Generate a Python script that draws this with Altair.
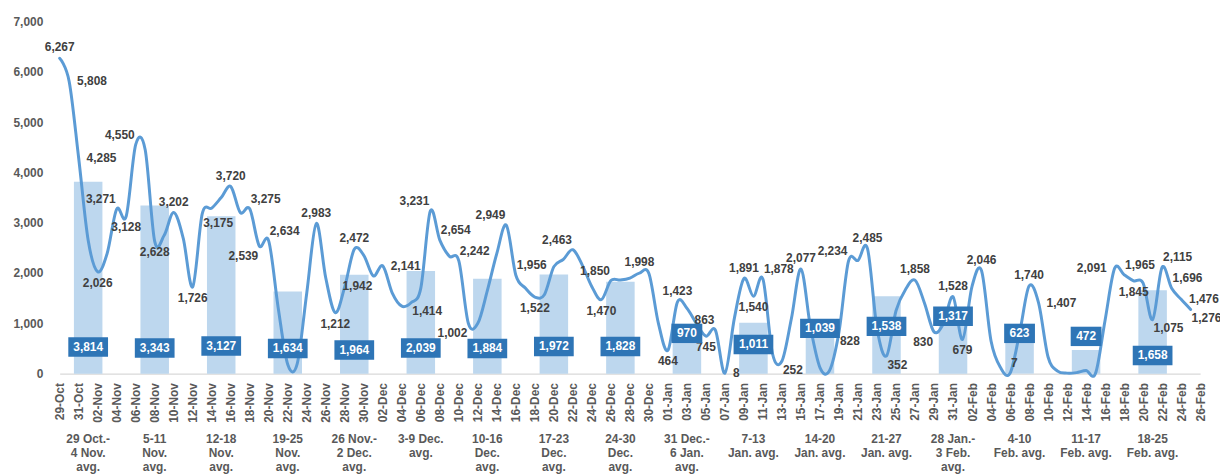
import altair as alt
import pandas as pd

# ---------------- data ----------------
# daily categories 29-Oct .. 26-Feb (tick labels)
date_labels = [d.strftime("%d-%b") for d in pd.date_range("2020-10-29", "2021-02-26", freq="D")]

# daily values 29-Oct .. 25-Feb
daily = [
    6267, 5808, 4285, 2650, 2026, 2391, 3271,          # 29 Oct - 4 Nov
    3128, 4550, 4450, 2628, 2750, 3202, 2693,          # 5-11 Nov
    1726, 3175, 3290, 3500, 3720, 3203, 3275,          # 12-18 Nov
    2539, 2634, 1300, 180, 200, 1602, 2983,            # 19-25 Nov
    1900, 1212, 1730, 2472, 2351, 1942, 2141,          # 26 Nov - 2 Dec
    1600, 1340, 1414, 1700, 3231, 2654, 2334,          # 3-9 Dec
    2242, 1002, 1000, 1650, 2390, 2949, 1956,          # 10-16 Dec
    1700, 1522, 1568, 2126, 2272, 2463, 2153,          # 17-23 Dec
    1728, 1470, 1850, 1860, 1900, 1998, 1990,          # 24-30 Dec
    1000, 464, 1423, 1300, 995, 745, 863,              # 31 Dec - 6 Jan
    8, 1108, 1891, 1540, 1878, 400, 252,               # 7-13 Jan
    1100, 2077, 924, 120, 60, 828, 2234,               # 14-20 Jan
    2250, 2485, 900, 352, 1250, 1671, 1858,            # 21-27 Jan
    1400, 830, 1000, 1528, 679, 1736, 2046,            # 28 Jan - 3 Feb
    650, 120, 7, 800, 1740, 1407, 330,                 # 4-10 Feb
    50, 10, 20, 60, 10, 1063, 2091,                    # 11-17 Feb
    1965, 1845, 1800, 1075, 2115, 1696, 1476, 1276,    # 18-25 Feb
]

# days carrying a data label, and where the label sits
label_days = [
    "29-Oct", "30-Oct", "31-Oct", "02-Nov", "04-Nov", "05-Nov", "06-Nov", "08-Nov",
    "10-Nov", "12-Nov", "13-Nov", "16-Nov", "18-Nov", "19-Nov", "20-Nov", "25-Nov",
    "27-Nov", "29-Nov", "01-Dec", "02-Dec", "05-Dec", "07-Dec", "08-Dec", "10-Dec",
    "11-Dec", "15-Dec", "16-Dec", "18-Dec", "22-Dec", "25-Dec", "26-Dec", "29-Dec",
    "01-Jan", "02-Jan", "05-Jan", "06-Jan", "07-Jan", "09-Jan", "10-Jan", "11-Jan",
    "13-Jan", "15-Jan", "19-Jan", "20-Jan", "22-Jan", "24-Jan", "27-Jan", "29-Jan",
    "31-Jan", "01-Feb", "03-Feb", "06-Feb", "08-Feb", "09-Feb", "17-Feb", "18-Feb",
    "19-Feb", "21-Feb", "22-Feb", "23-Feb", "24-Feb", "25-Feb",
]
label_place = [
    "a", "r", "r", "b", "al", "b", "al", "b",
    "a", "b", "br", "a", "ar", "bl", "ar", "a",
    "b", "a", "bl", "r", "br", "al", "ar", "ar",
    "bl", "al", "ar", "b", "al", "b", "al", "a",
    "b", "a", "b", "al", "r", "a", "b", "ar",
    "br", "a", "br", "al", "a", "br", "a", "bl",
    "a", "b", "a", "ar", "a", "r", "l", "ar",
    "b", "br", "ar", "ar", "r", "br",
]

# weekly averages
week_start = ["29-Oct", "05-Nov", "12-Nov", "19-Nov", "26-Nov", "03-Dec", "10-Dec",
              "17-Dec", "24-Dec", "31-Dec", "07-Jan", "14-Jan", "21-Jan", "28-Jan",
              "04-Feb", "11-Feb", "18-Feb"]
week_names = [
    "29 Oct.-\n4 Nov.\navg.", "5-11\nNov.\navg.", "12-18\nNov.\navg.", "19-25\nNov.\navg.",
    "26 Nov.-\n2 Dec.\navg.", "3-9 Dec.\navg.", "10-16\nDec.\navg.", "17-23\nDec.\navg.",
    "24-30\nDec.\navg.", "31 Dec.-\n6 Jan.\navg.", "7-13\nJan. avg.", "14-20\nJan. avg.",
    "21-27\nJan. avg.", "28 Jan.-\n3 Feb.\navg.", "4-10\nFeb. avg.", "11-17\nFeb. avg.",
    "18-25\nFeb. avg.",
]
week_avg = [3814, 3343, 3127, 1634, 1964, 2039, 1884, 1972, 1828, 970, 1011, 1039,
            1538, 1317, 623, 472, 1658]
# level (value axis) at which each average's label box sits
avg_label_level = [530, 510, 550, 500, 470, 510, 500, 540, 540, 800, 580, 900,
                   940, 1140, 800, 740, 360]

# ---------------- styling ----------------
FONT = "Liberation Sans"
W, H = 1148, 354.5
N = len(date_labels) - 1
LINE_C = "#5B9BD5"
BAR_C = "#BDD7EE"
BOX_C = "#2E75B6"
TXT_C = "#404040"
AX_C = "#595959"

PLACE = {
    "a":  dict(align="center", baseline="bottom", dx=0, dy=-4),
    "b":  dict(align="center", baseline="top", dx=0, dy=6),
    "l":  dict(align="right", baseline="middle", dx=-8, dy=0),
    "r":  dict(align="left", baseline="middle", dx=8, dy=0),
    "al": dict(align="right", baseline="bottom", dx=-1, dy=-3),
    "ar": dict(align="left", baseline="bottom", dx=1, dy=-3),
    "bl": dict(align="right", baseline="top", dx=-1, dy=5),
    "br": dict(align="left", baseline="top", dx=1, dy=4),
}

# ---------------- tables ----------------
day_df = pd.DataFrame({"day": range(len(daily)), "value": daily})
day_idx = {s: i for i, s in enumerate(date_labels)}

lab_df = pd.DataFrame({
    "day": [day_idx[s] for s in label_days],
    "place": label_place,
})
lab_df["value"] = [daily[d] for d in lab_df["day"]]

wk = pd.DataFrame({"start": [day_idx[s] for s in week_start], "name": week_names,
                   "avg": week_avg, "level": avg_label_level})
wk["center"] = wk["start"] + 3
wk["x0"] = wk["center"] - 1.5
wk["x1"] = wk["center"] + 1.5
wk["zero"] = 0
wk["txt"] = [f"{v:,}" for v in wk["avg"]]
wk["bw"] = wk["txt"].str.len() * 4.5 + 17.5
wk["area"] = wk["bw"] ** 2
wk["path"] = [f"M-1,-{19.5 / w:.4f}L1,-{19.5 / w:.4f}L1,{19.5 / w:.4f}L-1,{19.5 / w:.4f}Z" for w in wk["bw"]]

label_js = "[" + ",".join(f"'{s}'" for s in date_labels) + "][datum.value]"

xs = alt.Scale(domain=[0, N], nice=False, zero=False)
ys = alt.Scale(domain=[0, 7000], nice=False, zero=False)

x_axis = alt.Axis(values=list(range(0, N + 1, 2)), labelExpr=label_js, labelAngle=270,
                  labelAlign="right", labelBaseline="middle", labelPadding=9,
                  ticks=False, tickSize=0, domain=True, domainColor="#D9D9D9", domainWidth=1.5,
                  labelFont=FONT, labelFontWeight="bold", labelFontSize=12, labelColor=AX_C,
                  labelOverlap=False, labelFlush=False, labelBound=False, grid=False, title=None)
y_axis = alt.Axis(values=list(range(0, 7001, 1000)), labelExpr="format(datum.value, ',')",
                  domain=False, ticks=False, labelOverlap=False,
                  tickSize=0, labelPadding=17, labelFont=FONT, labelFontWeight="bold",
                  labelFontSize=12, labelColor=AX_C, grid=False, title=None)


def X(field):
    return alt.X(field, scale=xs, axis=x_axis)


def Y(field):
    return alt.Y(field, scale=ys, axis=y_axis)


bars = alt.Chart(wk).mark_rect(color=BAR_C).encode(
    x=X("x0:Q"), x2="x1:Q", y=Y("avg:Q"), y2="zero:Q",
)

line = alt.Chart(day_df).mark_line(interpolate="cardinal", color=LINE_C, strokeWidth=3,
                                   strokeCap="round", strokeJoin="round").encode(
    x=X("day:Q"), y=Y("value:Q"),
)

label_layers = []
for code, props in PLACE.items():
    sub = lab_df[lab_df["place"] == code]
    if sub.empty:
        continue
    label_layers.append(
        alt.Chart(sub).mark_text(font=FONT, fontSize=12, fontWeight="bold", color=TXT_C, **props)
        .encode(x=X("day:Q"), y=Y("value:Q"), text=alt.Text("value:Q", format=","))
    )

boxes = alt.Chart(wk).mark_point(filled=True, opacity=1, color=BOX_C, strokeWidth=0).encode(
    x=X("center:Q"), y=Y("level:Q"),
    shape=alt.Shape("path:N", scale=None), size=alt.Size("area:Q", scale=None),
)
box_text = alt.Chart(wk).mark_text(font=FONT, fontSize=12, fontWeight="bold", color="white",
                                   align="center", baseline="middle").encode(
    x=X("center:Q"), y=Y("level:Q"), text="txt:N",
)

week_text = alt.Chart(wk).mark_text(font=FONT, fontSize=12, fontWeight="bold", color=AX_C,
                                    align="center", baseline="top", lineBreak="\n",
                                    lineHeight=14.5).encode(
    x=X("center:Q"), y=alt.value(415), text="name:N",
)

chart = alt.layer(bars, line, *label_layers, boxes, box_text, week_text).properties(
    width=W, height=H,
    autosize=alt.AutoSizeParams(type="none"),
    padding={"left": 52, "top": 12, "right": 20, "bottom": 100},
    background="white",
).configure_view(stroke=None)

chart.save("out.html", embed_options={"renderer": "svg", "actions": False})
